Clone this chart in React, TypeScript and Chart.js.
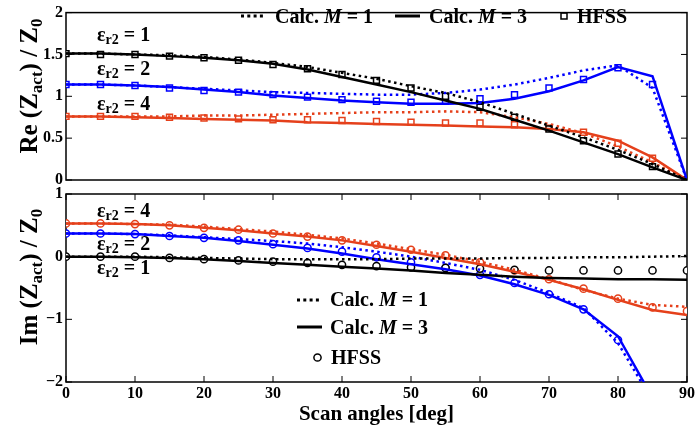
import React, { useEffect, useRef } from "react";
import { Chart, registerables } from "chart.js";
Chart.register(...registerables);

const FONT = "'Liberation Serif', 'Times New Roman', Times, serif";
const BLACK = "#000000";
const BLUE = "#0000ff";
const RED = "#e5401b";

// Scan angles [deg]
const angles = [0, 5, 10, 15, 20, 25, 30, 35, 40, 45, 50, 55, 60, 65, 70, 75, 80, 85, 90];

// Re(Zact)/Z0
const reE1M1 = [1.51, 1.51, 1.5, 1.49, 1.47, 1.44, 1.4, 1.35, 1.28, 1.21, 1.12, 1.04, 0.93, 0.79, 0.65, 0.51, 0.36, 0.19, 0];
const reE1M3 = [1.51, 1.51, 1.5, 1.48, 1.46, 1.43, 1.39, 1.32, 1.23, 1.14, 1.05, 0.95, 0.85, 0.72, 0.59, 0.45, 0.31, 0.15, 0];
const reE1HF = [1.51, 1.5, 1.5, 1.48, 1.46, 1.43, 1.38, 1.33, 1.26, 1.19, 1.1, 1.0, 0.87, 0.75, 0.61, 0.47, 0.31, 0.16, 0];
const reE2M1 = [1.14, 1.14, 1.13, 1.11, 1.09, 1.07, 1.05, 1.04, 1.03, 1.02, 1.02, 1.04, 1.08, 1.14, 1.22, 1.31, 1.37, 1.1, 0];
const reE2M3 = [1.14, 1.14, 1.13, 1.11, 1.08, 1.05, 1.01, 0.98, 0.95, 0.93, 0.91, 0.91, 0.92, 0.97, 1.06, 1.19, 1.35, 1.24, 0];
const reE2HF = [1.14, 1.14, 1.13, 1.1, 1.07, 1.05, 1.02, 0.99, 0.96, 0.94, 0.93, 0.94, 0.97, 1.02, 1.1, 1.2, 1.34, 1.14, 0];
const reE4M1 = [0.76, 0.76, 0.76, 0.76, 0.77, 0.77, 0.78, 0.79, 0.8, 0.81, 0.81, 0.82, 0.81, 0.75, 0.67, 0.56, 0.4, 0.21, 0];
const reE4M3 = [0.76, 0.76, 0.75, 0.74, 0.73, 0.72, 0.71, 0.69, 0.68, 0.67, 0.66, 0.65, 0.64, 0.63, 0.61, 0.57, 0.47, 0.27, 0];
const reE4HF = [0.76, 0.76, 0.76, 0.75, 0.74, 0.73, 0.72, 0.72, 0.71, 0.7, 0.69, 0.68, 0.68, 0.66, 0.62, 0.57, 0.44, 0.26, 0];

// Im(Zact)/Z0
const imE1M1 = [0, 0, 0, -0.01, -0.02, -0.03, -0.04, -0.04, -0.04, -0.04, -0.03, -0.03, -0.03, -0.02, -0.02, -0.01, -0.01, 0.0, 0.01];
const imE1M3 = [0, 0, -0.01, -0.02, -0.04, -0.07, -0.1, -0.13, -0.16, -0.19, -0.22, -0.26, -0.29, -0.32, -0.34, -0.35, -0.36, -0.36, -0.37];
const imE1HF = [0, 0, 0, -0.02, -0.04, -0.06, -0.08, -0.1, -0.13, -0.15, -0.17, -0.18, -0.19, -0.21, -0.22, -0.22, -0.22, -0.22, -0.22];
const imE2M1 = [0.37, 0.37, 0.36, 0.34, 0.31, 0.28, 0.25, 0.21, 0.15, 0.08, 0.0, -0.1, -0.21, -0.37, -0.58, -0.82, -1.38, -2.3, -3.5];
const imE2M3 = [0.37, 0.37, 0.36, 0.33, 0.3, 0.25, 0.19, 0.13, 0.05, -0.04, -0.12, -0.2, -0.3, -0.44, -0.61, -0.84, -1.27, -2.25, -3.5];
const imE2HF = [0.37, 0.37, 0.36, 0.33, 0.3, 0.26, 0.2, 0.14, 0.08, -0.01, -0.09, -0.18, -0.29, -0.42, -0.6, -0.84, -1.33, null, null];
const imE4M1 = [0.53, 0.53, 0.52, 0.51, 0.48, 0.44, 0.4, 0.35, 0.29, 0.21, 0.12, 0.03, -0.08, -0.21, -0.36, -0.53, -0.67, -0.77, -0.8];
const imE4M3 = [0.53, 0.53, 0.52, 0.5, 0.46, 0.42, 0.37, 0.32, 0.26, 0.17, 0.08, -0.02, -0.12, -0.24, -0.37, -0.52, -0.69, -0.85, -0.93];
const imE4HF = [0.53, 0.53, 0.52, 0.5, 0.46, 0.43, 0.37, 0.32, 0.26, 0.19, 0.11, 0.02, -0.09, -0.22, -0.36, -0.51, -0.67, -0.81, -0.87];

const xTicks = [0, 10, 20, 30, 40, 50, 60, 70, 80, 90];

type Part = { t: string; s: number; it?: boolean; dy?: number };
const fontOf = (p: Part) => `${p.it ? "italic " : ""}bold ${p.s}px ${FONT}`;

function drawRich(ctx: CanvasRenderingContext2D, parts: Part[], x: number, y: number, align: "left" | "center") {
  ctx.save();
  ctx.textBaseline = "alphabetic";
  ctx.textAlign = "left";
  ctx.fillStyle = "#000";
  let w = 0;
  for (const p of parts) {
    ctx.font = fontOf(p);
    w += ctx.measureText(p.t).width;
  }
  let cx = align === "center" ? x - w / 2 : x;
  for (const p of parts) {
    ctx.font = fontOf(p);
    ctx.fillText(p.t, cx, y + (p.dy || 0));
    cx += ctx.measureText(p.t).width;
  }
  ctx.restore();
}

function drawYTitle(ctx: CanvasRenderingContext2D, parts: Part[], x: number, y: number) {
  ctx.save();
  ctx.translate(x, y);
  ctx.rotate(-Math.PI / 2);
  drawRich(ctx, parts, 0, 0, "center");
  ctx.restore();
}

function sample(ctx: CanvasRenderingContext2D, x1: number, x2: number, y: number, dashed: boolean) {
  ctx.save();
  ctx.strokeStyle = "#000";
  ctx.lineWidth = 3;
  ctx.setLineDash(dashed ? [3, 3.3] : []);
  ctx.beginPath();
  ctx.moveTo(x1, y);
  ctx.lineTo(x2, y);
  ctx.stroke();
  ctx.restore();
}

const eps = (v: string): Part[] => [
  { t: "ε", s: 20 },
  { t: "r2", s: 14, dy: 3 },
  { t: " = " + v, s: 20 },
];
const calc = (v: string): Part[] => [
  { t: "Calc. ", s: 20 },
  { t: "M", s: 20, it: true },
  { t: " = " + v, s: 20 },
];
const yTitle = (pre: string): Part[] => [
  { t: pre + " (Z", s: 25 },
  { t: "act", s: 17, dy: 5 },
  { t: ") / Z", s: 25 },
  { t: "0", s: 17, dy: 5 },
];

function pts(arr: (number | null)[]) {
  return angles.map((a, i) => ({ x: a, y: arr[i] }));
}
function lineDs(arr: number[], color: string, dashed: boolean) {
  return {
    data: pts(arr),
    borderColor: color,
    borderWidth: 2.5,
    borderDash: dashed ? [2.5, 3.5] : [],
    borderCapStyle: "butt",
    pointRadius: 0,
    fill: false,
    tension: 0,
  };
}
function markDs(arr: (number | null)[], color: string, style: string) {
  return {
    data: pts(arr),
    showLine: false,
    borderColor: color,
    backgroundColor: "#fff",
    pointStyle: style,
    pointRadius: style === "rect" ? 4.2 : 3.6,
    pointBorderWidth: 1.5,
    pointBorderColor: color,
    pointBackgroundColor: "#fff",
  };
}

function framePlugin(xTicksOn: boolean) {
  return {
    id: "frame" + (xTicksOn ? "B" : "T"),
    beforeDatasetsDraw(chart: any) {
      const { ctx, chartArea: a, scales } = chart;
      ctx.save();
      ctx.strokeStyle = "#000";
      ctx.lineWidth = 1.5;
      ctx.strokeRect(a.left, a.top, a.right - a.left, a.bottom - a.top);
      ctx.lineWidth = 1;
      ctx.beginPath();
      for (const t of scales.y.ticks) {
        const py = scales.y.getPixelForValue(t.value);
        ctx.moveTo(a.left, py);
        ctx.lineTo(a.left + 6, py);
        ctx.moveTo(a.right, py);
        ctx.lineTo(a.right - 6, py);
      }
      if (xTicksOn) {
        for (const t of scales.x.ticks) {
          const px = scales.x.getPixelForValue(t.value);
          ctx.moveTo(px, a.top);
          ctx.lineTo(px, a.top + 6);
          ctx.moveTo(px, a.bottom);
          ctx.lineTo(px, a.bottom - 6);
        }
      }
      ctx.stroke();
      ctx.restore();
    },
  };
}

const tickFont = { family: FONT, size: 16, weight: "bold" as const };

function yScale(min: number, max: number, step: number) {
  return {
    type: "linear",
    min,
    max,
    ticks: {
      stepSize: step,
      font: tickFont,
      color: "#000",
      padding: 3,
      callback: (v: number) => (v < 0 ? "\u2212" + Math.abs(v) : String(v)),
    },
    grid: { display: false, drawTicks: false },
    border: { display: false },
    afterFit: (s: any) => {
      s.width = 66;
    },
  };
}

export default function App() {
  const topRef = useRef<HTMLCanvasElement>(null);
  const botRef = useRef<HTMLCanvasElement>(null);

  useEffect(() => {
    document.body.style.margin = "0";
    const topChart = new Chart(topRef.current as HTMLCanvasElement, {
      type: "line",
      data: {
        datasets: [
          lineDs(reE1M1, BLACK, true),
          lineDs(reE1M3, BLACK, false),
          lineDs(reE2M1, BLUE, true),
          lineDs(reE2M3, BLUE, false),
          lineDs(reE4M1, RED, true),
          lineDs(reE4M3, RED, false),
          markDs(reE1HF, BLACK, "rect"),
          markDs(reE2HF, BLUE, "rect"),
          markDs(reE4HF, RED, "rect"),
        ] as any,
      },
      options: {
        responsive: false,
        animation: false,
        events: [],
        layout: { padding: { left: 0, top: 6, right: 12, bottom: 252 } },
        plugins: { legend: { display: false }, tooltip: { enabled: false } },
        scales: {
          x: { type: "linear", min: 0, max: 90, display: false },
          y: yScale(0, 2, 0.5),
        } as any,
      },
      plugins: [
        framePlugin(false),
        {
          id: "topText",
          afterDraw(chart: any) {
            const ctx = chart.ctx;
            drawYTitle(ctx, yTitle("Re"), 37, 86);
            drawRich(ctx, eps("1"), 97, 41, "left");
            drawRich(ctx, eps("2"), 97, 75, "left");
            drawRich(ctx, eps("4"), 97, 110, "left");
            sample(ctx, 241, 266, 16, true);
            drawRich(ctx, calc("1"), 275, 23, "left");
            sample(ctx, 395, 420, 16, false);
            drawRich(ctx, calc("3"), 429, 23, "left");
            ctx.save();
            ctx.strokeStyle = "#000";
            ctx.lineWidth = 1.5;
            ctx.strokeRect(561, 13, 6, 6);
            ctx.restore();
            drawRich(ctx, [{ t: "HFSS", s: 20 }], 577, 23, "left");
          },
        },
      ],
    } as any);

    const botChart = new Chart(botRef.current as HTMLCanvasElement, {
      type: "line",
      data: {
        datasets: [
          lineDs(imE1M1, BLACK, true),
          lineDs(imE1M3, BLACK, false),
          lineDs(imE2M1, BLUE, true),
          lineDs(imE2M3, BLUE, false),
          lineDs(imE4M1, RED, true),
          lineDs(imE4M3, RED, false),
          markDs(imE1HF, BLACK, "circle"),
          markDs(imE2HF, BLUE, "circle"),
          markDs(imE4HF, RED, "circle"),
        ] as any,
      },
      options: {
        responsive: false,
        animation: false,
        events: [],
        layout: { padding: { left: 0, top: 194, right: 12, bottom: 0 } },
        plugins: { legend: { display: false }, tooltip: { enabled: false } },
        scales: {
          x: {
            type: "linear",
            min: 0,
            max: 90,
            afterBuildTicks: (s: any) => {
              s.ticks = xTicks.map((v) => ({ value: v }));
            },
            ticks: { font: tickFont, color: "#000", padding: 2, maxRotation: 0 },
            grid: { display: false, drawTicks: false },
            border: { display: false },
            afterFit: (s: any) => {
              s.height = 50;
            },
          },
          y: yScale(-2, 1, 1),
        } as any,
      },
      plugins: [
        framePlugin(true),
        {
          id: "botText",
          afterDraw(chart: any) {
            const ctx = chart.ctx;
            const a = chart.chartArea;
            drawYTitle(ctx, yTitle("Im"), 37, 277);
            drawRich(ctx, [{ t: "Scan angles [deg]", s: 21 }], (a.left + a.right) / 2, 420, "center");
            drawRich(ctx, eps("4"), 97, 217, "left");
            drawRich(ctx, eps("2"), 97, 250, "left");
            drawRich(ctx, eps("1"), 97, 274, "left");
            sample(ctx, 297, 322, 300, true);
            drawRich(ctx, calc("1"), 330, 306, "left");
            sample(ctx, 297, 322, 327, false);
            drawRich(ctx, calc("3"), 330, 334, "left");
            ctx.save();
            ctx.strokeStyle = "#000";
            ctx.lineWidth = 1.5;
            ctx.beginPath();
            ctx.arc(317.5, 357.5, 3.6, 0, Math.PI * 2);
            ctx.stroke();
            ctx.restore();
            drawRich(ctx, [{ t: "HFSS", s: 20 }], 331, 364, "left");
          },
        },
      ],
    } as any);

    return () => {
      topChart.destroy();
      botChart.destroy();
    };
  }, []);

  const cs: React.CSSProperties = { position: "fixed", left: 0, top: 0, width: 699, height: 432 };
  return (
    <div style={{ position: "relative", width: 699, height: 432, background: "#fff" }}>
      <canvas ref={topRef} width={699} height={432} style={cs} />
      <canvas ref={botRef} width={699} height={432} style={cs} />
    </div>
  );
}
